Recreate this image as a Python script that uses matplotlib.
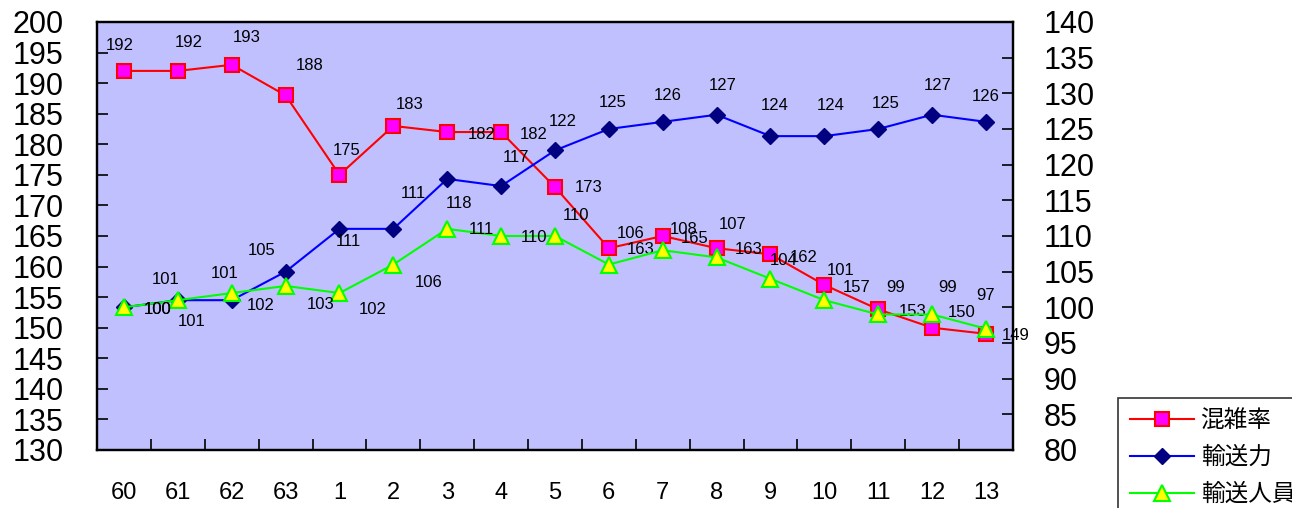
import matplotlib
matplotlib.use("Agg")
from matplotlib import pyplot as plt

plt.rcParams['font.family'] = ['Liberation Sans', 'Noto Sans CJK JP', 'DejaVu Sans']

# years (昭和60..63, 平成1..13)
years = ["60", "61", "62", "63", "1", "2", "3", "4", "5", "6", "7", "8",
         "9", "10", "11", "12", "13"]
congestion = [192, 192, 193, 188, 175, 183, 182, 182, 173, 163, 165, 163,
              162, 157, 153, 150, 149]
capacity = [100, 101, 101, 105, 111, 111, 118, 117, 122, 125, 126, 127,
            124, 124, 125, 127, 126]
passengers = [100, 101, 102, 103, 102, 106, 111, 110, 110, 106, 108, 107,
              104, 101, 99, 99, 97]

# label offsets in pixels (dx, dy up)
congestion_off = [(-4, 25), (11, 28), (15, 27), (24, 30), (7, 24), (16, 21),
                  (34, -2), (33, -2), (34, 0), (32, -1), (32, -3), (32, -1),
                  (33, -3), (32, -3), (34, -2), (30, 15), (30, -2)]
capacity_off = [(34, -2), (-12, 21), (-7, 27), (-24, 21), (9, -13), (20, 35),
                (12, -25), (15, 29), (8, 29), (4, 26), (5, 26), (6, 29),
                (4, 31), (6, 31), (7, 25), (6, 29), (0, 25)]
passengers_off = [(34, -2), (14, -21), (29, -12), (35, -19), (33, -16),
                  (35, -18), (34, -1), (33, -2), (21, 20), (22, 31), (21, 21),
                  (16, 33), (13, 18), (16, 30), (17, 27), (16, 27), (0, 33)]

x = list(range(len(years)))

fig = plt.figure(figsize=(12.92, 5.08), dpi=100)
ax = fig.add_axes([0.0751, 0.1142, 0.7089, 0.8425])
ax.set_facecolor('#C0C0FF')
ax2 = ax.twinx()

ax.set_xlim(-0.5, len(years) - 0.5)
ax.set_ylim(130, 200)
ax2.set_ylim(80, 140)
ax.set_yticks(range(130, 201, 5))
ax2.set_yticks(range(80, 141, 5))

ax.set_xticks(x)
ax.set_xticklabels(years, fontsize=17)
ax.set_xticks([i + 0.5 for i in x[:-1]], minor=True)
ax.tick_params(axis='x', which='major', length=0, pad=23)
ax.tick_params(axis='x', which='minor', direction='in', length=8, width=1.2)
ax.tick_params(axis='y', direction='in', length=8, width=1.2, labelsize=22, pad=24)
ax2.tick_params(axis='y', direction='in', length=8, width=1.2, labelsize=22, pad=22)

for a in (ax, ax2):
    for s in a.spines.values():
        s.set_linewidth(1.6)
        s.set_color('black')

l1, = ax.plot(x, congestion, color='#FF0000', lw=1.5, marker='s', ms=10,
              mfc='#FF00FF', mec='#FF0000', mew=1.5, zorder=3)
l2, = ax2.plot(x, capacity, color='#0000FF', lw=1.5, marker='D', ms=8,
               mfc='#000080', mec='#000080', mew=1, zorder=3)
l3, = ax2.plot(x, passengers, color='#00FF00', lw=1.5, marker='^', ms=11,
               mfc='#FFFF00', mec='#00FF00', mew=1.5, zorder=4)

for a, vals, offs in ((ax, congestion, congestion_off),
                      (ax2, capacity, capacity_off),
                      (ax2, passengers, passengers_off)):
    for xi, v, (dx, dy) in zip(x, vals, offs):
        a.annotate(str(v), (xi, v), xytext=(dx, dy), textcoords='offset pixels',
                   ha='center', va='center', fontsize=12, zorder=5)

leg = fig.legend([l1, l2, l3], ['混雑率', '輸送力', '輸送人員'],
                 loc='upper left', bbox_to_anchor=(0.8653, 0.2165),
                 fontsize=17, frameon=True, fancybox=False, shadow=False,
                 edgecolor='black', borderpad=0.5, labelspacing=0.62,
                 handlelength=2.7, handletextpad=0.3, borderaxespad=0)
leg.get_frame().set_linewidth(1.2)

fig.savefig('out.png', dpi=100)
